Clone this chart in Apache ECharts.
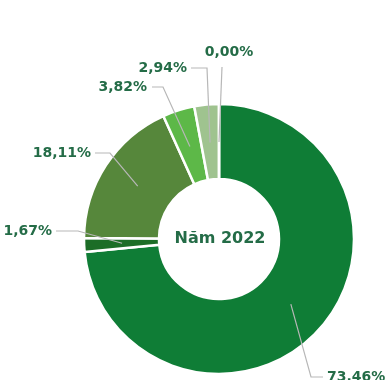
<!DOCTYPE html>
<html>
<head>
<meta charset="utf-8">
<script src="https://cdn.jsdelivr.net/npm/echarts@6/dist/echarts.min.js"></script>
<style>
  html, body { margin: 0; padding: 0; background: #ffffff; }
  #chart { width: 387px; height: 380px; }
</style>
</head>
<body>
<div id="chart"></div>
<script>
// Shares of the year, clockwise from 12 o'clock (percent)
const groups = ['Nhóm 1', 'Nhóm 2', 'Nhóm 3', 'Nhóm 4', 'Nhóm 5', 'Nhóm 6'];
const shares = [73.46, 1.67, 18.11, 3.82, 2.94, 0.00];
const centerTitle = 'Năm 2022';

// Styling
const sliceColors = ['#0f7d36', '#1c6d27', '#56873b', '#5db848', '#9fc38f', '#c9dcc0'];
const textColor = '#246c47';
const leaderColor = '#b7b7b7';
const FONT = '"DejaVu Sans", sans-serif';

// Ring geometry (px)
const CX = 219, CY = 239;
const R_IN = 60, R_OUT = 135;
const LEADER_R = 97; // leader lines start in the middle of the ring

// Leader/label placement relative to the ring centre:
// elbow point, end of the horizontal run, text anchor, text alignment
const labelSpots = [
  { ex: 92,   ey: 138,  endx: 104,  tx: 108,  ty: 138,  align: 'left'   },
  { ex: -141, ey: -8,   endx: -163, tx: -167, ty: -8,   align: 'right'  },
  { ex: -109, ey: -86,  endx: -124, tx: -128, ty: -86,  align: 'right'  },
  { ex: -56,  ey: -152, endx: -67,  tx: -72,  ty: -152, align: 'right'  },
  { ex: -12,  ey: -171, endx: -28,  tx: -32,  ty: -171, align: 'right'  },
  { ex: 3,    ey: -172, endx: 3,    tx: 10,   ty: -187, align: 'center' }
];

function fmtPct(v) {
  return v.toFixed(2).replace('.', ',') + '%';
}

const sliceData = shares.map(function (v, i) {
  return { name: groups[i], value: v, itemStyle: { color: sliceColors[i] } };
});
const labelData = shares.map(function (v, i) {
  return { name: groups[i], value: v };
});

const chart = echarts.init(document.getElementById('chart'), null, { renderer: 'canvas' });

chart.setOption({
  backgroundColor: '#ffffff',
  animation: false,
  graphic: [{
    type: 'text',
    x: CX + 1,
    y: CY,
    z: 10,
    style: {
      text: centerTitle,
      fill: textColor,
      font: 'bold 16px ' + FONT,
      align: 'center',
      verticalAlign: 'middle'
    }
  }],
  series: [
    {
      // the ring itself
      type: 'pie',
      z: 2,
      center: [CX, CY],
      radius: [R_IN, R_OUT],
      startAngle: 90,
      clockwise: true,
      silent: true,
      emphasis: { disabled: true },
      itemStyle: { borderColor: '#ffffff', borderWidth: 2.5 },
      label: { show: false },
      labelLine: { show: false },
      data: sliceData
    },
    {
      // invisible copy on top carrying the percentage labels and leader lines
      type: 'pie',
      z: 5,
      center: [CX, CY],
      radius: [R_IN, R_OUT],
      startAngle: 90,
      clockwise: true,
      silent: true,
      avoidLabelOverlap: false,
      emphasis: { disabled: true },
      itemStyle: { color: 'rgba(0,0,0,0)', borderWidth: 0 },
      label: {
        show: true,
        position: 'outside',
        formatter: function (p) { return fmtPct(p.value); },
        color: textColor,
        fontFamily: FONT,
        fontWeight: 'bold',
        fontSize: 14
      },
      labelLine: {
        show: true,
        length: 10,
        length2: 10,
        lineStyle: { color: leaderColor, width: 1.2 }
      },
      labelLayout: function (p) {
        const s = labelSpots[p.dataIndex];
        let anchor;
        if (p.labelLinePoints && p.labelLinePoints[0]) {
          const a = p.labelLinePoints[0];
          const k = LEADER_R / Math.max(1e-6, Math.hypot(a[0] - CX, a[1] - CY));
          anchor = [CX + (a[0] - CX) * k, CY + (a[1] - CY) * k];
        } else {
          anchor = [CX + s.ex, CY + s.ey];
        }
        return {
          x: CX + s.tx,
          y: CY + s.ty,
          align: s.align,
          verticalAlign: 'middle',
          labelLinePoints: [
            anchor,
            [CX + s.ex, CY + s.ey],
            [CX + s.endx, CY + s.ey]
          ]
        };
      },
      data: labelData
    }
  ]
});
</script>
</body>
</html>
